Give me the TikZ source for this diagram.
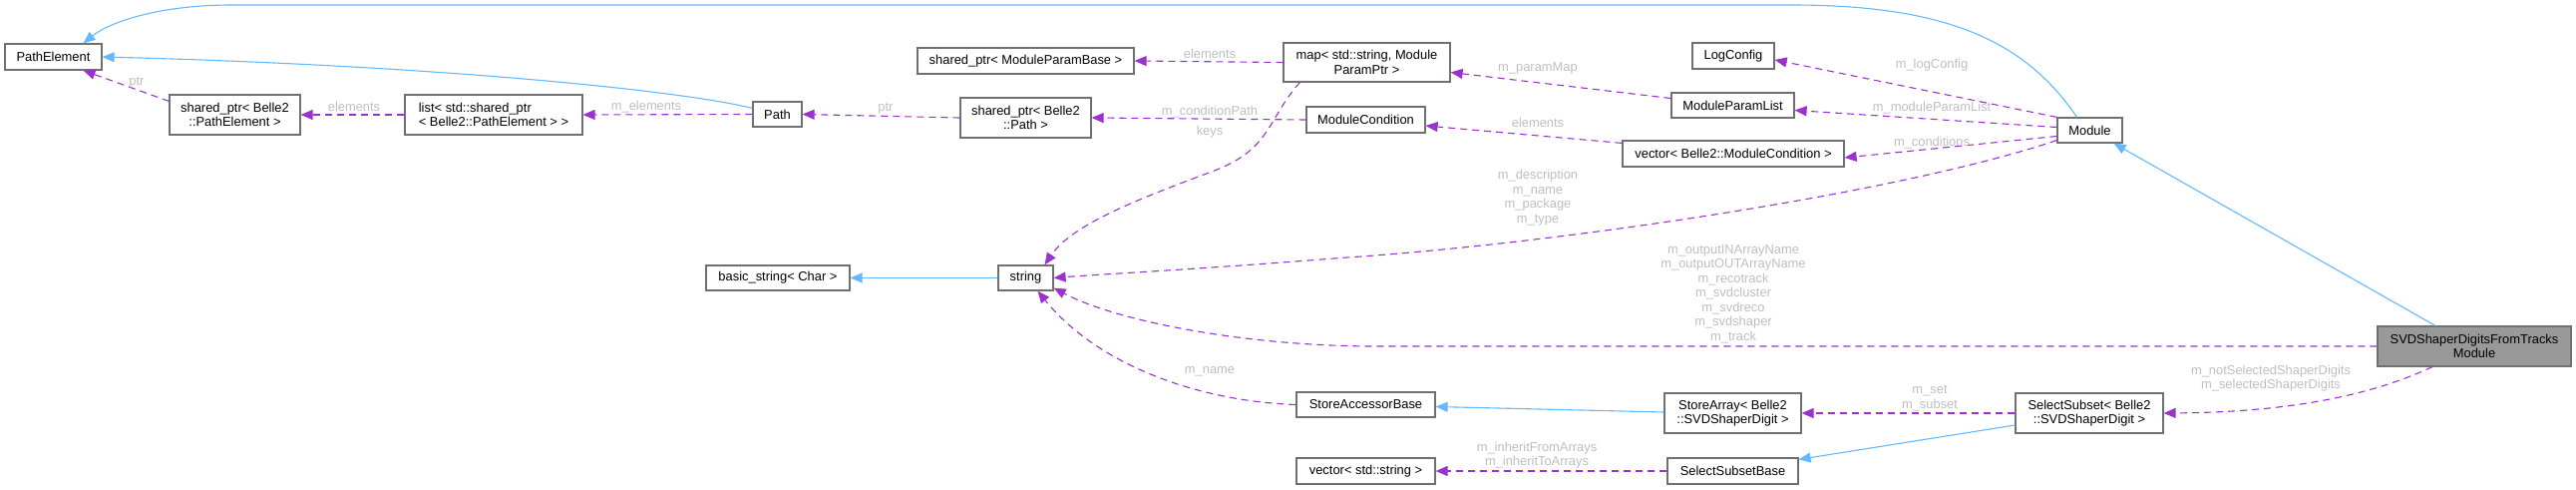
\documentclass[tikz,border=0pt]{standalone}
\usepackage{fontspec}
\setmainfont{Liberation Sans}
\usetikzlibrary{arrows.meta,calc}
\definecolor{inhblue}{HTML}{63B8FF}
\definecolor{usepurple}{HTML}{9A32CD}
\definecolor{lblgrey}{HTML}{BEBEBE}
\definecolor{boxgrey}{HTML}{707070}
\definecolor{mainfill}{HTML}{999999}
\begin{document}
\begin{tikzpicture}[x=1pt,y=-1pt,
  every node/.style={font=\fontsize{12.9}{14.5}\selectfont},
  cls/.style={draw=boxgrey, line width=1.2pt, fill=white, inner sep=0pt, align=center},
  mainclass/.style={cls, fill=mainfill},
  inh/.style={draw=inhblue, line width=1.1pt, -{Triangle[length=12pt,width=10pt]}},
  use/.style={draw=usepurple, line width=1.1pt, dash pattern=on 7pt off 5pt, -{Triangle[length=12pt,width=10pt]}},
  lbl/.style={text=lblgrey, align=center, inner sep=0pt},
]
\useasboundingbox (0,0) rectangle (2583,490);

% nodes
\node[cls, minimum width=97pt, minimum height=26pt] (PE) at (53.5,57) {PathElement};
\node[cls, minimum width=131pt, minimum height=40pt] (spPE) at (235.5,115) {shared\_ptr< Belle2\\::PathElement >};
\node[cls, align=left, minimum width=178pt, minimum height=40pt] (list) at (495,115) {list< std::shared\_ptr\\< Belle2::PathElement > >};
\node[cls, minimum width=49pt, minimum height=25pt] (Path) at (779.5,114.5) {Path};
\node[cls, minimum width=217pt, minimum height=26pt] (spMPB) at (1028.5,61) {shared\_ptr< ModuleParamBase >};
\node[cls, minimum width=131pt, minimum height=40pt] (spPath) at (1028.5,118) {shared\_ptr< Belle2\\::Path >};
\node[cls, minimum width=167pt, minimum height=39pt] (map) at (1370.5,62.5) {map< std::string, Module\\ParamPtr >};
\node[cls, minimum width=119pt, minimum height=26pt] (MC) at (1369.5,120) {ModuleCondition};
\node[cls, minimum width=82pt, minimum height=26pt] (LC) at (1738,56) {LogConfig};
\node[cls, minimum width=123pt, minimum height=25pt] (MPL) at (1737.5,105.5) {ModuleParamList};
\node[cls, minimum width=222pt, minimum height=26pt] (vMC) at (1738,154) {vector< Belle2::ModuleCondition >};
\node[cls, minimum width=65pt, minimum height=25pt] (Mod) at (2095.5,130.5) {Module};
\node[mainclass, minimum width=194pt, minimum height=40pt] (SVD) at (2481,347) {SVDShaperDigitsFromTracks\\Module};
\node[cls, minimum width=144pt, minimum height=25pt] (bs) at (780,278.5) {basic\_string< Char >};
\node[cls, minimum width=55pt, minimum height=25pt] (str) at (1028.5,278.5) {string};
\node[cls, minimum width=139pt, minimum height=25pt] (SAB) at (1369.5,405.5) {StoreAccessorBase};
\node[cls, minimum width=139pt, minimum height=26pt] (vS) at (1369.5,472) {vector< std::string >};
\node[cls, minimum width=137pt, minimum height=40pt] (SA) at (1737.5,414) {StoreArray< Belle2\\::SVDShaperDigit >};
\node[cls, minimum width=131pt, minimum height=26pt] (SSB) at (1737.5,472) {SelectSubsetBase};
\node[cls, minimum width=148pt, minimum height=40pt] (SS) at (2095,414) {SelectSubset< Belle2\\::SVDShaperDigit >};

% inheritance edges
\draw[inh] ($(Mod.north)+(-13,0)$) .. controls (2030,40) and (1950,5) .. (1796,5) -- (232,5) .. controls (160,5) and (110,22) .. ($(PE.north)+(30,0)$);
\draw[inh] ($(Path.west)+(0,-6)$) .. controls (690,92) and (450,66) .. (PE.east);
\draw[inh] (str.west) -- (bs.east);
\draw[inh] ($(SA.west)+(0,-1)$) -- ($(SAB.east)+(0,2)$);
\draw[inh] ($(SS.west)+(0,12)$) -- ($(SSB.north east)+(0,2)$);
\draw[inh] ($(SVD.north)+(-39,0)$) -- ($(Mod.south east)+(-9,0)$);

% usage edges
\draw[use] ($(spPE.north west)+(0,7)$) -- ($(PE.south)+(30,0)$);
\draw[use] (list.west) -- (spPE.east);
\draw[use] (Path.west) -- (list.east);
\draw[use] (spPath.west) -- (Path.east);
\draw[use] (map.west) -- (spMPB.east);
\draw[use] (MC.west) -- (spPath.east);
\draw[use] ($(map.south west)+(17,0)$) .. controls (1270,120) and (1275,150) .. (1215,172) .. controls (1140,200) and (1075,225) .. ($(str.north)+(19,0)$);
\draw[use] ($(MPL.west)+(0,-7)$) -- ($(map.east)+(0,10)$);
\draw[use] ($(vMC.north west)+(0,3)$) -- ($(MC.east)+(0,6)$);
\draw[use] (Mod.north west) -- ($(LC.east)+(0,4)$);
\draw[use] ($(Mod.west)+(0,-3)$) -- ($(MPL.east)+(0,5)$);
\draw[use] ($(Mod.west)+(0,6)$) -- ($(vMC.east)+(0,4)$);
\draw[use] ($(Mod.south west)+(0,-3)$) .. controls (1900,195) and (1550,245) .. (1350,258) .. controls (1200,270) and (1100,275) .. (str.east);
\draw[use] (SVD.west) -- (1380,347) .. controls (1250,347) and (1120,322) .. ($(str.south east)+(0,-3)$);
\draw[use] (SAB.west) .. controls (1200,402) and (1100,365) .. ($(str.south)+(12,0)$);
\draw[use] (SS.west) -- (SA.east);
\draw[use] (SSB.west) -- (vS.east);
\draw[use] ($(SVD.south)+(-42,0)$) .. controls (2380,395) and (2300,413) .. (SS.east);

% labels
\node[lbl] (l1) at (137,83) {ptr};
\node[lbl] (l2) at (355,107) {elements};
\node[lbl] (l3) at (648,107) {m\_elements};
\node[lbl] (l4) at (888,109) {ptr};
\node[lbl] (l5) at (1213,54) {elements};
\node[lbl] (l6) at (1213,112) {m\_conditionPath};
\node[lbl] (l7) at (1213,132) {keys};
\node[lbl] (l8) at (1542,68) {m\_paramMap};
\node[lbl] (l9) at (1937,65) {m\_logConfig};
\node[lbl] (l10) at (1937,108) {m\_moduleParamList};
\node[lbl] (l11) at (1542,123) {elements};
\node[lbl] (l12) at (1937,143) {m\_conditions};
\node[lbl] (l13) at (1542,198) {m\_description\\m\_name\\m\_package\\m\_type};
\node[lbl] (l14) at (1738,294.5) {m\_outputINArrayName\\m\_outputOUTArrayName\\m\_recotrack\\m\_svdcluster\\m\_svdreco\\m\_svdshaper\\m\_track};
\node[lbl] (l15) at (1213,372) {m\_name};
\node[lbl] (l16) at (1935,399) {m\_set\\m\_subset};
\node[lbl] (l17) at (1541,456) {m\_inheritFromArrays\\m\_inheritToArrays};
\node[lbl] (l18) at (2277,379) {m\_notSelectedShaperDigits\\m\_selectedShaperDigits};
\end{tikzpicture}
\end{document}
